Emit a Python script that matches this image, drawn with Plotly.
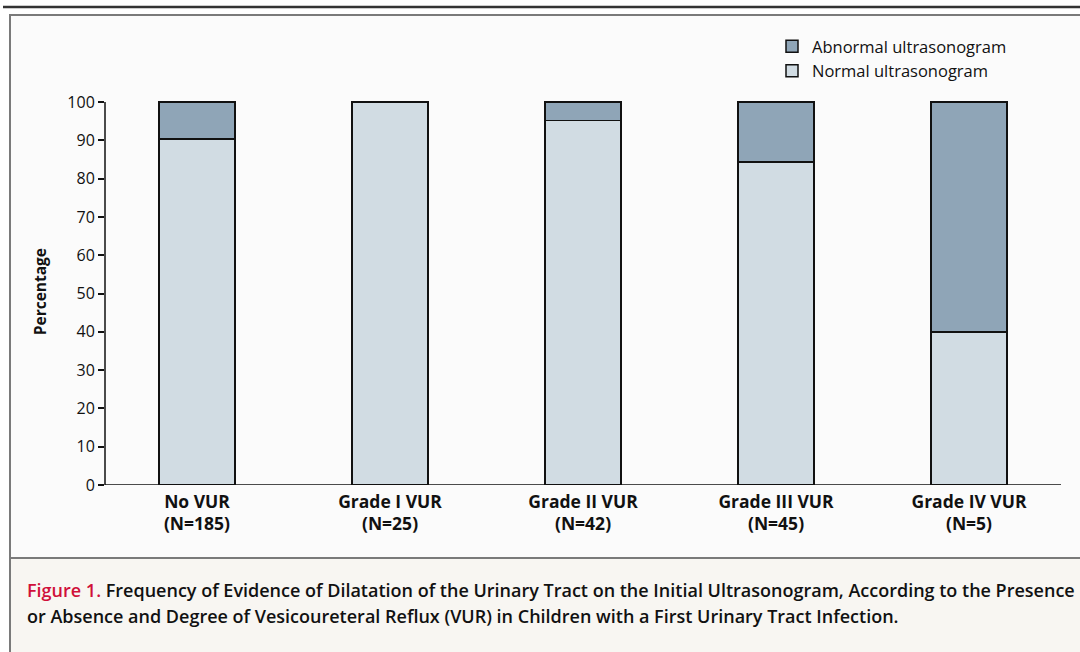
import plotly.graph_objects as go

categories = ["No VUR<br>(N=185)", "Grade I VUR<br>(N=25)", "Grade II VUR<br>(N=42)",
              "Grade III VUR<br>(N=45)", "Grade IV VUR<br>(N=5)"]
normal_pct = [90.3, 100.0, 95.2, 84.4, 40.0]
abnormal_pct = [9.7, 0.0, 4.8, 15.6, 60.0]
y_ticks = [0, 10, 20, 30, 40, 50, 60, 70, 80, 90, 100]

W, H = 1080, 652
FONT = "Open Sans"
C_ABN = "#8fa5b7"
C_NOR = "#d1dce3"

fig = go.Figure()
fig.add_trace(go.Bar(x=categories, y=normal_pct, name="Normal ultrasonogram",
                     marker=dict(color=C_NOR, line=dict(color="#111", width=1.5))))
fig.add_trace(go.Bar(x=categories, y=abnormal_pct, name="Abnormal ultrasonogram",
                     marker=dict(color=C_ABN, line=dict(color="#111", width=1.5))))

px_per_unit = (485 - 102) / 100.0
ytop = 101.0
y_dom_bottom = 1 - 485 / H
y_dom_top = 1 - (485 - ytop * px_per_unit) / H

fig.update_layout(
    template="none",
    width=W, height=H,
    margin=dict(l=0, r=0, t=0, b=0, autoexpand=False),
    paper_bgcolor="white",
    plot_bgcolor="rgba(0,0,0,0)",
    barmode="stack",
    bargap=0.606,
    font=dict(family=FONT, color="#111"),
    showlegend=True,
    legend=dict(x=772 / W, y=1 - 29 / H, xanchor="left", yanchor="top",
                bgcolor="rgba(0,0,0,0)", font=dict(size=16.5, family=FONT, color="#111"),
                traceorder="reversed", itemwidth=30, tracegroupgap=0),
    xaxis=dict(domain=[105 / W, 1061 / W], range=[-0.4767, 4.4767], showgrid=False,
               showline=False, ticks="", zeroline=False, automargin=False,
               ticklabelstandoff=4,
               tickfont=dict(size=17.5, family=FONT, color="#111", weight="bold")),
    yaxis=dict(domain=[y_dom_bottom, y_dom_top], range=[0, ytop], tickvals=y_ticks,
               showgrid=False, showline=False, zeroline=False, ticks="outside",
               ticklen=6, tickwidth=1.5, tickcolor="#111", automargin=False,
               tickfont=dict(size=16, family=FONT, color="#111"),
               title=dict(text="<b>Percentage</b>", font=dict(size=15.5, family=FONT, color="#111"),
                          standoff=16)),
)

shapes = []
shapes.append(dict(type="line", xref="paper", yref="paper", x0=3 / W, x1=1, y0=1 - 7 / H, y1=1 - 7 / H,
                   line=dict(color="#333", width=2.5), layer="below"))
shapes.append(dict(type="rect", xref="paper", yref="paper", x0=10 / W, x1=1.01, y0=0, y1=1 - 15 / H,
                   fillcolor="#fbfbfb", line=dict(color="#7a7a7a", width=2), layer="below"))
shapes.append(dict(type="rect", xref="paper", yref="paper", x0=10 / W, x1=1.01, y0=-0.01, y1=1 - 558 / H,
                   fillcolor="#f8f6f2", line=dict(color="#7a7a7a", width=2), layer="below"))
shapes.append(dict(type="line", xref="x domain", yref="y", x0=0, x1=0, y0=0, y1=100,
                   line=dict(color="#111", width=1.5)))
shapes.append(dict(type="line", xref="x domain", yref="y", x0=0, x1=1, y0=0, y1=0,
                   line=dict(color="#111", width=1.5)))
fig.update_layout(shapes=shapes)

fig.add_annotation(xref="paper", yref="paper", x=25 / W, y=1 - 590 / H, xanchor="left", yanchor="middle",
                   showarrow=False, align="left",
                   text="<span style='color:#d0103a'>Figure 1.</span> Frequency of Evidence of Dilatation of the Urinary Tract on the Initial Ultrasonogram, According to the Presence",
                   font=dict(size=18, family=FONT, color="#111", weight=600))
fig.add_annotation(xref="paper", yref="paper", x=25 / W, y=1 - 616 / H, xanchor="left", yanchor="middle",
                   showarrow=False, align="left",
                   text="or Absence and Degree of Vesicoureteral Reflux (VUR) in Children with a First Urinary Tract Infection.",
                   font=dict(size=18, family=FONT, color="#111", weight=600))

fig.write_html("out.html", config={"displayModeBar": False},
               post_script="document.body.style.margin='0';document.body.style.overflow='hidden';")
